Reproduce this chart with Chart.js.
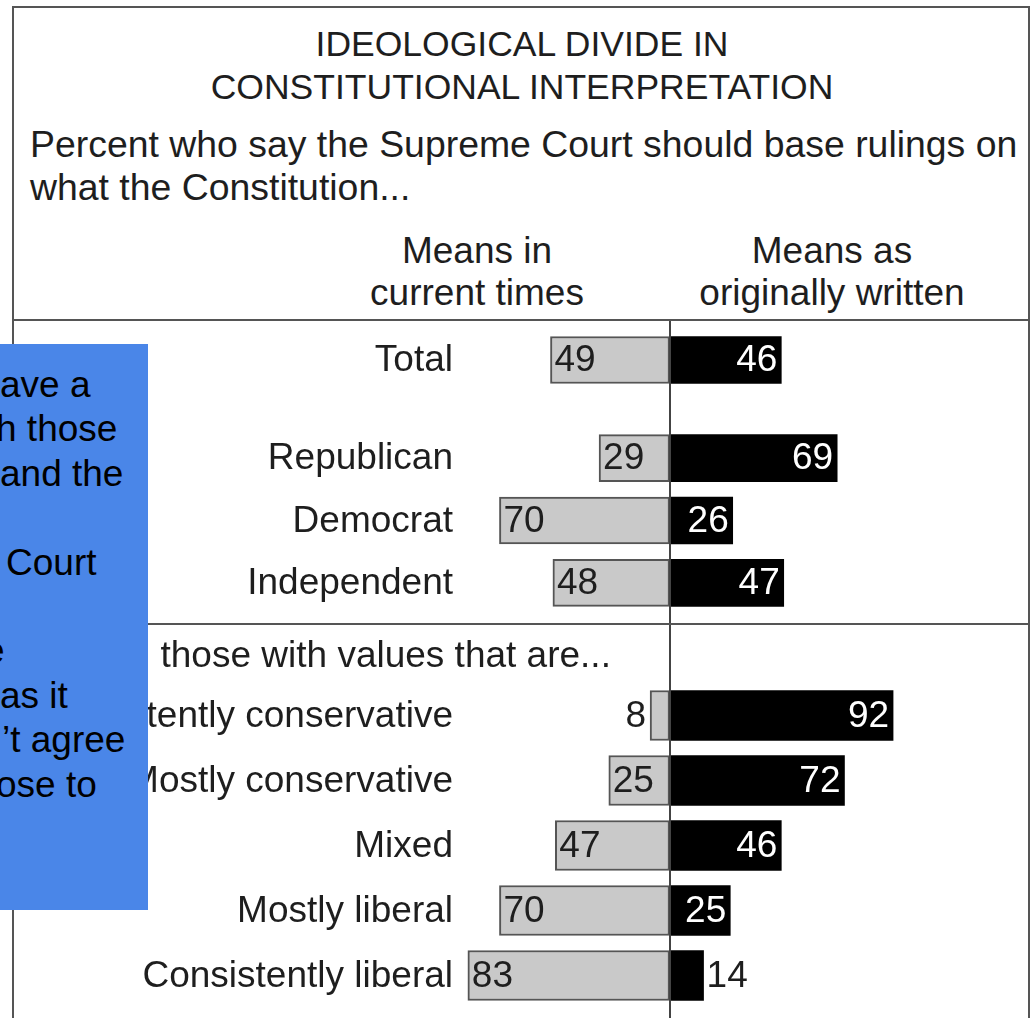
<!DOCTYPE html>
<html>
<head>
<meta charset="utf-8">
<script src="https://cdn.jsdelivr.net/npm/chart.js@4.4.0/dist/chart.umd.min.js"></script>
<style>
  html, body { margin: 0; padding: 0; background: #fff; }
  body { width: 1034px; height: 1018px; position: relative; overflow: hidden;
         font-family: "Liberation Sans", Arial, Helvetica, sans-serif; color: #1e1e1e; }
  canvas { position: absolute; left: 0; z-index: 1; }
  .line { position: absolute; background: #555; z-index: 3; }
  .txt { position: absolute; white-space: nowrap; line-height: 1; z-index: 2; }
  #note { position: absolute; left: 0; top: 344px; width: 148px; height: 566px; background: #4a86e8;
          overflow: hidden; z-index: 5; font-size: 37px; line-height: 44.4px; color: #000;
          padding-top: 19px; box-sizing: border-box; white-space: nowrap; }
</style>
</head>
<body>

<!-- frame -->
<div class="line" style="left:12px; top:6px; width:1018px; height:2px;"></div>
<div class="line" style="left:12px; top:6px; width:2px; height:1012px;"></div>
<div class="line" style="left:1028px; top:6px; width:2px; height:1012px;"></div>
<div class="line" style="left:12px; top:319px; width:1018px; height:2px;"></div>
<div class="line" style="left:12px; top:623px; width:1018px; height:2px;"></div>

<!-- headings -->
<div class="txt" style="left:0; width:1044px; text-align:center; top:27px; font-size:35.5px;">IDEOLOGICAL DIVIDE IN</div>
<div class="txt" style="left:0; width:1044px; text-align:center; top:70px; font-size:35.5px;">CONSTITUTIONAL INTERPRETATION</div>
<div class="txt" style="left:30px; top:126px; font-size:37.4px;">Percent who say the Supreme Court should base rulings on</div>
<div class="txt" style="left:30px; top:169px; font-size:37.4px;">what the Constitution...</div>
<div class="txt" style="left:0; width:954px; text-align:center; top:232px; font-size:37px;">Means in</div>
<div class="txt" style="left:0; width:954px; text-align:center; top:274px; font-size:37px;">current times</div>
<div class="txt" style="left:632px; width:400px; text-align:center; top:232px; font-size:37px;">Means as</div>
<div class="txt" style="left:632px; width:400px; text-align:center; top:274px; font-size:37px;">originally written</div>
<div class="txt" style="left:33px; top:636px; font-size:37px;">Among those with values that are...</div>

<canvas id="totalChart" width="1034" height="80" style="top:320px;"></canvas>
<canvas id="partyChart" width="1034" height="224" style="top:400px;"></canvas>
<canvas id="valuesChart" width="1034" height="394" style="top:624px;"></canvas>

<!-- slide text box over the chart -->
<div id="note">
  <div>ave a</div>
  <div style="margin-left:-4px">h those</div>
  <div>and the</div>
  <div>&nbsp;</div>
  <div style="margin-left:6px">Court</div>
  <div>&nbsp;</div>
  <div style="margin-left:-16px">e</div>
  <div>as it</div>
  <div style="margin-left:2px">’t agree</div>
  <div style="margin-left:-4px">ose to</div>
</div>

<script>
const seriesNames = ['Means in current times', 'Means as originally written'];

const totalLabels = ['Total'];
const totalCurrent = [49];
const totalOriginal = [46];

const partyLabels = ['Republican', 'Democrat', 'Independent'];
const partyCurrent = [29, 70, 48];
const partyOriginal = [69, 26, 47];

const valuesLabels = ['Consistently conservative', 'Mostly conservative', 'Mixed', 'Mostly liberal', 'Consistently liberal'];
const valuesCurrent = [8, 25, 47, 70, 83];
const valuesOriginal = [92, 72, 46, 25, 14];

Chart.defaults.font.family = '"Liberation Sans", Arial, Helvetica, sans-serif';
const labelFont = '37px "Liberation Sans", Arial, sans-serif';

// vertical line at zero, full canvas height so the panels join up
const zeroLine = {
  id: 'zeroLine',
  afterDatasetsDraw(chart) {
    const ctx = chart.ctx;
    const x = Math.round(chart.scales.x.getPixelForValue(0));
    ctx.save();
    ctx.strokeStyle = '#444';
    ctx.lineWidth = 2;
    ctx.beginPath();
    ctx.moveTo(x, 0);
    ctx.lineTo(x, chart.height);
    ctx.stroke();
    ctx.restore();
  }
};

// row names, right aligned just left of the plot area
// (drawn here so the y scale doesn't add label padding to the layout)
const rowLabels = {
  id: 'rowLabels',
  afterDraw(chart) {
    const ctx = chart.ctx;
    const y = chart.scales.y;
    ctx.save();
    ctx.font = labelFont;
    ctx.fillStyle = '#1e1e1e';
    ctx.textAlign = 'right';
    ctx.textBaseline = 'middle';
    chart.data.labels.forEach(function (lab, i) {
      ctx.fillText(lab, chart.chartArea.left - 10, y.getPixelForValue(i) + 1);
    });
    ctx.restore();
  }
};

// numbers inside the bars (or just outside when the bar is too short)
const valueLabels = {
  id: 'valueLabels',
  afterDatasetsDraw(chart) {
    const ctx = chart.ctx;
    ctx.save();
    ctx.font = labelFont;
    ctx.textBaseline = 'middle';
    chart.data.datasets.forEach(function (ds, di) {
      chart.getDatasetMeta(di).data.forEach(function (bar, i) {
        const txt = String(Math.abs(ds.data[i]));
        const w = ctx.measureText(txt).width;
        const left = Math.min(bar.x, bar.base);
        const right = Math.max(bar.x, bar.base);
        const fits = right - left >= w + 6;
        if (di === 0) {
          ctx.fillStyle = '#1e1e1e';
          if (fits) { ctx.textAlign = 'left'; ctx.fillText(txt, left + 4, bar.y + 1); }
          else { ctx.textAlign = 'right'; ctx.fillText(txt, left - 4, bar.y + 1); }
        } else {
          if (fits) { ctx.fillStyle = '#fff'; ctx.textAlign = 'right'; ctx.fillText(txt, right - 4, bar.y + 1); }
          else { ctx.fillStyle = '#1e1e1e'; ctx.textAlign = 'left'; ctx.fillText(txt, right + 3, bar.y + 1); }
        }
      });
    });
    ctx.restore();
  }
};

function makeChart(id, labels, current, original, padTop, padBottom, thickness) {
  return new Chart(document.getElementById(id), {
    type: 'bar',
    data: {
      labels: labels,
      datasets: [
        {
          label: seriesNames[0],
          data: current.map(function (v) { return -v; }),
          backgroundColor: '#c9c9c9',
          borderColor: '#555',
          borderWidth: 2,
          borderSkipped: false,
          barThickness: thickness
        },
        {
          label: seriesNames[1],
          data: original,
          backgroundColor: '#000',
          borderWidth: 0,
          barThickness: thickness
        }
      ]
    },
    options: {
      indexAxis: 'y',
      responsive: false,
      animation: false,
      layout: { padding: { top: padTop, bottom: padBottom, left: 463, right: 0 } },
      plugins: { legend: { display: false }, tooltip: { enabled: false } },
      scales: {
        x: { stacked: true, min: -85, max: 150, display: false },
        y: { stacked: true, display: false }
      }
    },
    plugins: [zeroLine, valueLabels, rowLabels]
  });
}

makeChart('totalChart', totalLabels, totalCurrent, totalOriginal, 0, 0, 47);
makeChart('partyChart', partyLabels, partyCurrent, partyOriginal, 27, 10, 47);
makeChart('valuesChart', valuesLabels, valuesCurrent, valuesOriginal, 59, 10, 50);
</script>
</body>
</html>
